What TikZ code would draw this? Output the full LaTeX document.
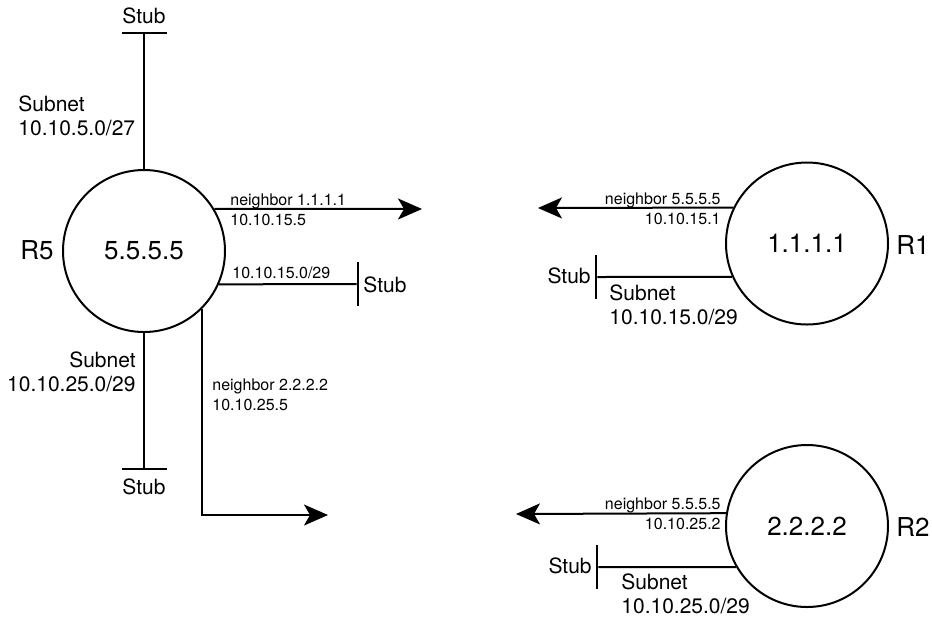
\documentclass[tikz,border=0pt]{standalone}
\usepackage{fontspec}
\setmainfont{TeX Gyre Heros}
\usetikzlibrary{arrows.meta,positioning}

\begin{document}
\begin{tikzpicture}[x=0.5pt,y=-0.5pt,
  router/.style={circle,draw,line width=1pt,minimum size=81pt,inner sep=0pt,
                 font=\fontsize{13}{15}\selectfont},
  hbar/.style={rectangle,fill=black,inner sep=0pt,minimum width=22.5pt,minimum height=1pt},
  vbar/.style={rectangle,fill=black,inner sep=0pt,minimum width=1pt,minimum height=22pt},
  big/.style={inner sep=0pt,font=\fontsize{13}{15}\selectfont},
  mid/.style={inner sep=0pt,font=\fontsize{10.5}{12.2}\selectfont},
  small/.style={inner sep=0pt,font=\fontsize{8}{9.8}\selectfont},
  link/.style={line width=1pt},
  arr/.style={line width=1pt,-{Stealth[length=12pt,width=10.5pt,inset=3pt]}}]
  \useasboundingbox (0,0) rectangle (932,618);

  % routers
  \node[router] (R5) at (144,251) {5.5.5.5};
  \node[router] (R1) at (807,243.5) {1.1.1.1};
  \node[router] (R2) at (807,526) {2.2.2.2};
  \node[big] (nR5) at (37,250) {R5};
  \node[big] (nR1) at (913,245) {R1};
  \node[big] (nR2) at (913,527) {R2};

  % stubs
  \node[hbar] (s0) at (144,33) {};
  \node[vbar] (s1) at (358,284) {};
  \node[hbar] (s2) at (144,469) {};
  \node[vbar] (s3) at (596,277) {};
  \node[vbar] (s4) at (597,567) {};
  \draw[link] (R5.north) -- (s0);
  \draw[link] (R5.-24) -- (s1);
  \draw[link] (R5.south) -- (s2);
  \draw[link] (R1.204) -- (s3);
  \draw[link] (R2.210) -- (s4);

  % neighbors
  \coordinate (t1) at (422,209);
  \coordinate (t2) at (328,515);
  \coordinate (t3) at (538,208);
  \coordinate (t4) at (516,514);
  \draw[arr] (R5.31) -- (t1);
  \draw[arr] (R5.-45) |- (t2);
  \draw[arr] (R1.154) -- (t3);
  \draw[arr] (R2.171.5) -- (t4);

  % labels
  \node[mid] (l0) at (144,16) {Stub};
  \node[mid,anchor=west,align=left] (l1) at (18,116) {Subnet\\10.10.5.0/27};
  \node[small,anchor=west,align=left] (l2) at (230,210) {neighbor 1.1.1.1\\10.10.15.5};
  \node[small,anchor=west] (l3) at (232,273) {10.10.15.0/29};
  \node[mid,anchor=west] (l4) at (363,285) {Stub};
  \node[small,anchor=west,align=left] (l5) at (212,395) {neighbor 2.2.2.2\\10.10.25.5};
  \node[mid,anchor=east,align=right] (l6) at (136,372) {Subnet\\10.10.25.0/29};
  \node[mid] (l7) at (144,487) {Stub};
  \node[small,anchor=east,align=right] (l8) at (721,208.5) {neighbor 5.5.5.5\\10.10.15.1};
  \node[mid,anchor=east] (l9) at (591,276) {Stub};
  \node[mid,anchor=west,align=left] (l10) at (609,305) {Subnet\\10.10.15.0/29};
  \node[small,anchor=east,align=right] (l11) at (721,513.5) {neighbor 5.5.5.5\\10.10.25.2};
  \node[mid,anchor=east] (l12) at (592,566) {Stub};
  \node[mid,anchor=west,align=left] (l13) at (621,594) {Subnet\\10.10.25.0/29};
\end{tikzpicture}
\end{document}
